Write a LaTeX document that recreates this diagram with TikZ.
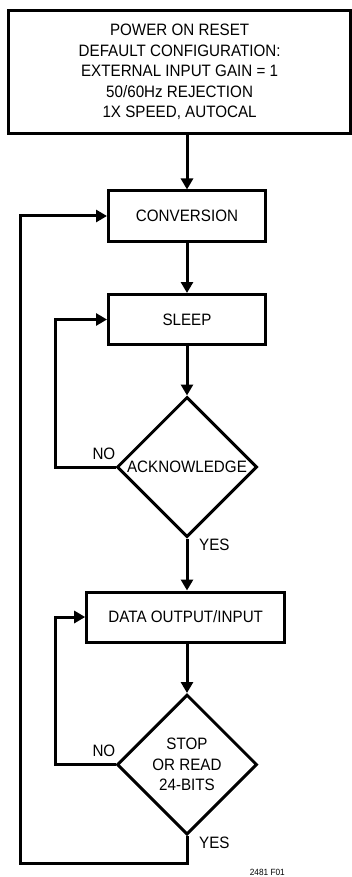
\documentclass[tikz,border=0pt]{standalone}
\usepackage{fontspec}
\setmainfont[FakeStretch=0.92]{Liberation Sans}
\usetikzlibrary{shapes.geometric,arrows.meta}

\begin{document}
\begin{tikzpicture}[
    x=1pt, y=-1pt,  % On compte en points, axe y vers le bas
    every node/.style={font=\fontsize{16.5}{20.5}\selectfont},
    % Réglages des boîtes et des losanges
    boite/.style={draw, line width=3pt, inner sep=0pt, minimum width=157pt,
        minimum height=50pt, align=center},
    losange/.style={draw, diamond, line width=3pt, inner sep=0pt,
        minimum size=140pt, align=center},
    etiq/.style={inner sep=0pt},
    fleche/.style={line width=3pt, -{Triangle[length=11pt,width=12pt]}}, % Flèche pleine
    ligne/.style={line width=3pt}
]
\useasboundingbox (0,0) rectangle (352,877);
% Blocs
\node[boite, minimum width=341.7pt, minimum height=123pt] (reset) at (179.6,72)
    {POWER ON RESET\\DEFAULT CONFIGURATION:\\EXTERNAL INPUT GAIN = 1\\50/60Hz REJECTION\\1X SPEED, AUTOCAL};
\node[boite] (conv) at (187,216) {CONVERSION};
\node[boite] (sleep) at (187,319.5) {SLEEP};
\node[losange] (ack) at (187,467) {ACKNOWLEDGE};
\node[boite, minimum width=198pt] (data) at (185.7,617) {DATA OUTPUT/INPUT};
\node[losange] (stop) at (187,764.5) {STOP\\OR READ\\24-BITS};
% Points pour les retours
\coordinate (g1) at (55.3,0);
\coordinate (bas) at (20,863);
% Liaisons
\draw[fleche] (reset.south -| conv.north) -- (conv.north);
\draw[fleche] (conv.south) -- (sleep.north);
\draw[fleche] (sleep.south) -- (ack.north);
\draw[fleche] (ack.south) -- (ack.south |- data.north);
\draw[fleche] (data.south -| stop.north) -- (stop.north);
\draw[fleche] (ack.west) -- (ack.west -| g1) |- (sleep.west);
\draw[fleche] (stop.west) -- (stop.west -| g1) |- (data.west);
\draw[fleche] (stop.south) |- (bas) |- (conv.west);
% Etiquettes
\node[etiq, anchor=base east] (non1) at ([yshift=8pt]ack.west) {NO};
\node[etiq, anchor=base west] (oui1) at ([xshift=12pt,yshift=-12pt]ack.south) {YES};
\node[etiq, anchor=base east] (non2) at ([yshift=8pt]stop.west) {NO};
\node[etiq, anchor=base west] (oui2) at ([xshift=12pt,yshift=-12pt]stop.south) {YES};
\node[etiq, anchor=base east, font=\fontsize{9}{11}\selectfont] (ref) at (285,875.5) {2481 F01};
\end{tikzpicture}
\end{document}
